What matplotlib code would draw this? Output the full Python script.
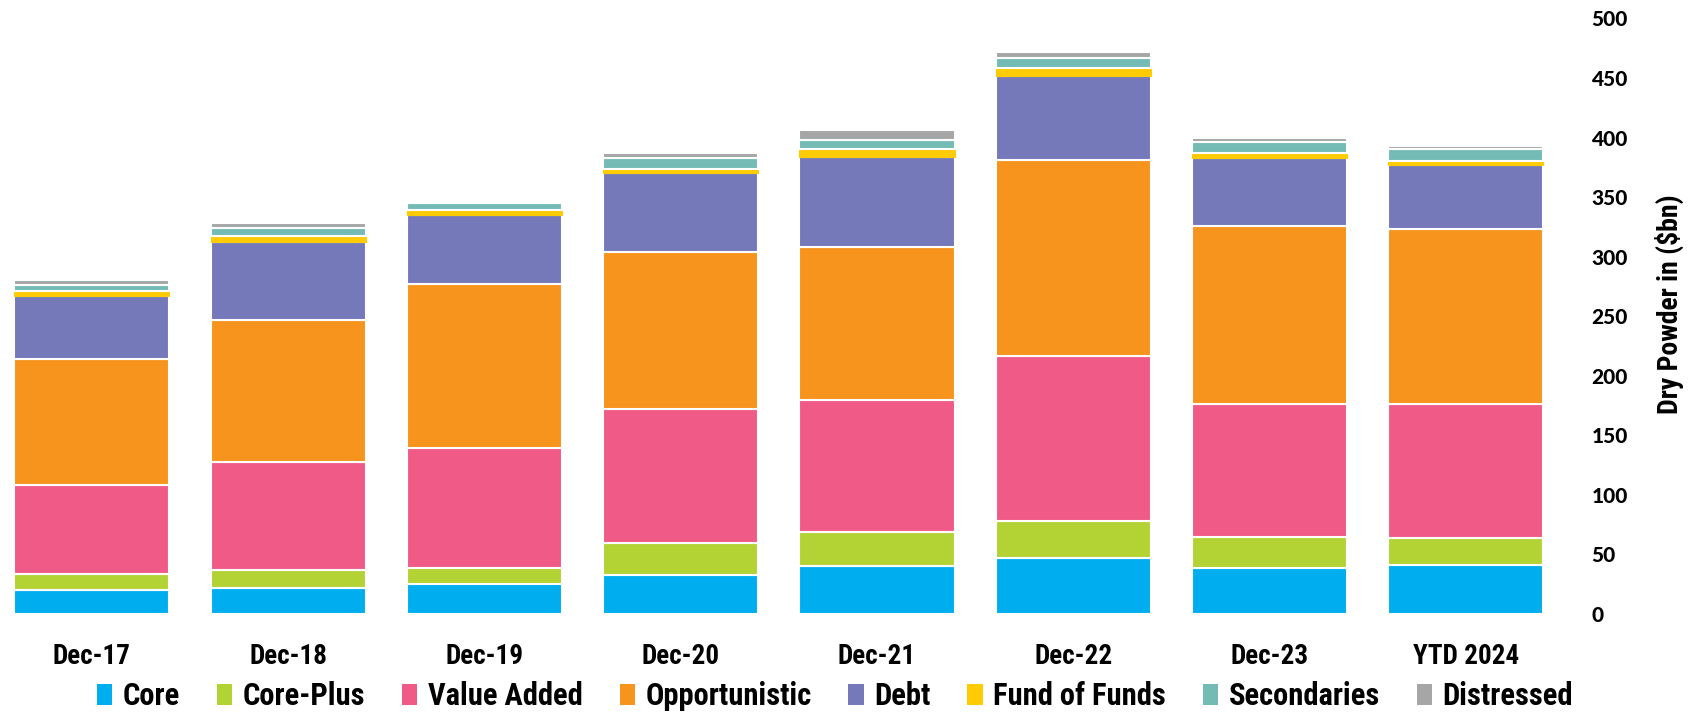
import matplotlib.pyplot as plt
from matplotlib.patches import Patch
from matplotlib import font_manager
import numpy as np

periods = ["Dec-17", "Dec-18", "Dec-19", "Dec-20", "Dec-21", "Dec-22", "Dec-23", "YTD 2024"]

core = [20, 22, 25, 33, 40, 47, 39, 41]
core_plus = [14, 15, 14, 27, 29, 31, 26, 23]
value_added = [74, 91, 100, 112, 111, 139, 111, 112]
opportunistic = [106, 119, 138, 132, 128, 164, 150, 147]
debt = [53, 65, 58, 66, 76, 71, 57, 54]
fund_of_funds = [4, 5, 4, 4, 6, 6, 4, 3]
secondaries = [5, 7, 6, 9, 8, 9, 9, 10]
distressed = [4, 4, 2, 4, 8, 5, 4, 3]

series = [
    ("Core", core, "#00AEEF"),
    ("Core-Plus", core_plus, "#B3D335"),
    ("Value Added", value_added, "#F05A87"),
    ("Opportunistic", opportunistic, "#F7941D"),
    ("Debt", debt, "#7579B9"),
    ("Fund of Funds", fund_of_funds, "#FFCB05"),
    ("Secondaries", secondaries, "#74BBB6"),
    ("Distressed", distressed, "#A6A6A6"),
]

names = {f.name for f in font_manager.fontManager.ttflist}


def pick(cands):
    for c in cands:
        if c in names:
            return [c, "DejaVu Sans"]
    return ["DejaVu Sans"]


cond = pick(["Roboto Condensed", "Liberation Sans Narrow"])
geo = pick(["Lato"])

fig = plt.figure(figsize=(16.95, 7.12), dpi=100)
ax = fig.add_axes([0.0021, 0.1376, 0.927, 0.8365])

x = np.arange(len(periods))
bottom = np.zeros(len(periods))
handles = []
for name, vals, col in series:
    edge = col if name == "Fund of Funds" else "white"
    lw = 0.8 if name == "Fund of Funds" else 1.5
    ax.bar(x, vals, width=0.79, bottom=bottom, color=col, edgecolor=edge, linewidth=lw)
    bottom += np.array(vals)
    handles.append(Patch(facecolor=col, edgecolor="none", label=name))

ax.set_xlim(-0.45, 7.555)
ax.set_ylim(0, 500)
for s in ax.spines.values():
    s.set_visible(False)

ax.yaxis.tick_right()
ax.set_yticks(range(0, 501, 50))
ax.tick_params(axis="y", length=0, pad=12)
for lbl in ax.get_yticklabels():
    lbl.set_fontfamily(geo)
    lbl.set_fontweight("black")
    lbl.set_fontsize(15)

ax.set_xticks(x)
ax.set_xticklabels(periods)
ax.tick_params(axis="x", length=0, pad=21)
for lbl in ax.get_xticklabels():
    lbl.set_fontfamily(cond)
    lbl.set_fontweight("bold")
    lbl.set_fontsize(19.5)

fig.text(0.985, 0.573, "Dry Powder in ($bn)", rotation=90, ha="center", va="center",
         family=cond, fontweight="bold", fontsize=20)

fig.legend(handles=handles, loc="center", bbox_to_anchor=(0.4927, 0.022), ncol=8,
           frameon=False, handlelength=0.5, handleheight=0.7, handletextpad=0.35,
           columnspacing=1.2, borderpad=0.1,
           prop={"family": cond, "weight": "bold", "size": 22})

fig.savefig("out.png", dpi=100)
